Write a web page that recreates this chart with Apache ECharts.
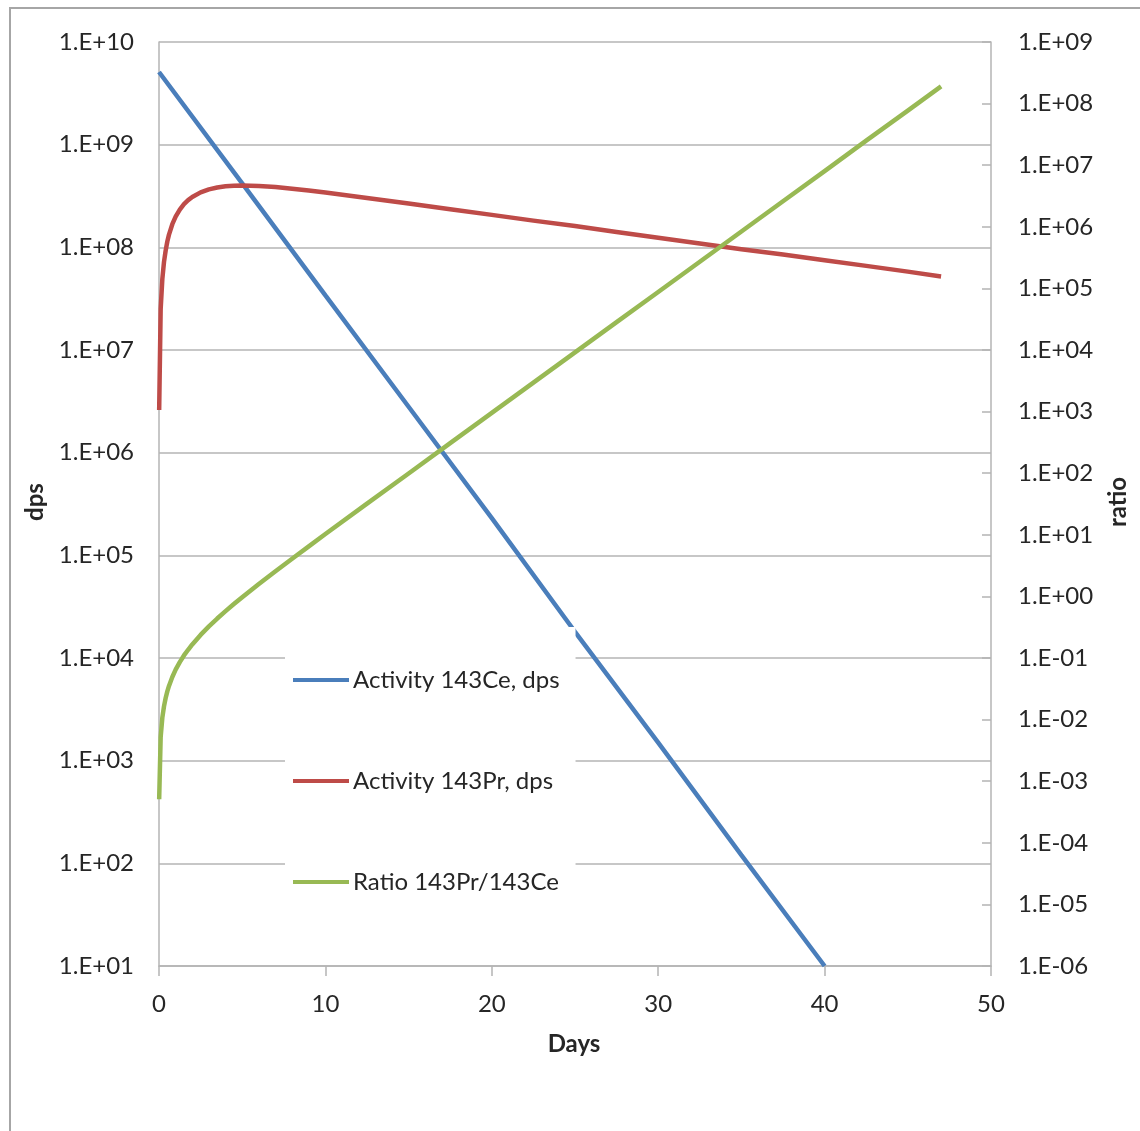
<!DOCTYPE html>
<html>
<head>
<meta charset="utf-8">
<script src="https://cdn.jsdelivr.net/npm/echarts@6/dist/echarts.min.js"></script>
<style>
  html, body { margin: 0; padding: 0; background: #ffffff; }
  #chart { width: 1140px; height: 1131px; }
</style>
</head>
<body>
<div id="chart"></div>
<script>
// Decay of 143Ce into 143Pr: activities (dps, left log axis) and Pr/Ce ratio (right log axis)
const ceDays = [0, 5, 10, 15, 20, 25, 30, 35, 40];
const ceActivity = [5.1e9, 4.2e8, 3.4e7, 2.8e6, 2.3e5, 1.8e4, 1.5e3, 1.2e2, 10];

const days = [0.01, 0.1, 0.2, 0.3, 0.4, 0.5, 0.6, 0.8, 1, 1.25, 1.5, 1.75, 2, 2.5, 3, 3.5,
              4, 4.5, 5, 6, 7, 8, 9, 10, 12.5, 15, 17.5, 20, 22.5, 25, 27.5, 30, 32.5,
              35, 37.5, 40, 42.5, 45, 47];
const prActivity = [2.6e6, 2.5e7, 4.9e7, 7.2e7, 9.3e7, 1.14e8, 1.33e8, 1.68e8, 1.99e8, 2.33e8,
                    2.63e8, 2.88e8, 3.09e8, 3.43e8, 3.67e8, 3.83e8, 3.93e8, 3.98e8, 4.0e8, 3.96e8,
                    3.86e8, 3.72e8, 3.57e8, 3.42e8, 3.03e8, 2.67e8, 2.35e8, 2.07e8, 1.82e8, 1.61e8,
                    1.41e8, 1.24e8, 1.09e8, 9.6e7, 8.5e7, 7.5e7, 6.6e7, 5.8e7, 5.2e7];
const ratio = [5.1e-4, 5.2e-3, 0.0107, 0.0164, 0.0224, 0.0287, 0.0352, 0.0492, 0.0646, 0.0858,
               0.11, 0.136, 0.166, 0.237, 0.326, 0.437, 0.576, 0.751, 0.97, 1.59,
               2.56, 4.09, 6.49, 10.3, 32, 99, 308, 953, 2950, 9130,
               2.83e4, 8.75e4, 2.71e5, 8.4e5, 2.6e6, 8.0e6, 2.5e7, 7.7e7, 1.9e8];

const seriesNames = ['Activity 143Ce, dps', 'Activity 143Pr, dps', 'Ratio 143Pr/143Ce'];
const seriesColors = ['#4A7EBB', '#BE4B48', '#98B954'];

const xTitle = 'Days';
const yLeftTitle = 'dps';
const yRightTitle = 'ratio';

const FONT = 'Lato, "Open Sans", sans-serif';
const TEXT = '#262626';
const GRID = '#B4B4B4';
const FS = 24;

function pairs(xs, ys) { return xs.map((x, i) => [x, ys[i]]); }

// Excel-style scientific label: 1.E+05, 1.E-03
function sci(v) {
  const e = Math.round(Math.log10(v));
  const s = e < 0 ? '-' : '+';
  return '1.E' + s + String(Math.abs(e)).padStart(2, '0');
}

const chart = echarts.init(document.getElementById('chart'), null, { renderer: 'canvas' });

chart.setOption({
  backgroundColor: '#ffffff',
  animation: false,
  textStyle: { fontFamily: FONT },
  grid: { left: 159, right: 149, top: 42, bottom: 165, containLabel: false },
  xAxis: {
    type: 'value', min: 0, max: 50, interval: 10,
    axisLine: { show: true, lineStyle: { color: GRID, width: 1.5 } },
    axisTick: { show: true, length: 10, lineStyle: { color: GRID, width: 1.5 } },
    axisLabel: { color: TEXT, fontSize: FS, fontFamily: FONT, margin: 26 },
    splitLine: { show: false }
  },
  yAxis: [
    {
      type: 'log', logBase: 10, min: 10, max: 1e10, interval: 1,
      position: 'left',
      axisLine: { show: true, lineStyle: { color: GRID, width: 1.5 } },
      axisTick: { show: false },
      axisLabel: { color: TEXT, fontSize: FS, fontFamily: FONT, margin: 25, formatter: sci },
      splitLine: { show: true, lineStyle: { color: GRID, width: 1.5 } },
      minorTick: { show: false }, minorSplitLine: { show: false }
    },
    {
      type: 'log', logBase: 10, min: 1e-6, max: 1e9, interval: 1,
      position: 'right',
      axisLine: { show: true, lineStyle: { color: GRID, width: 1.5 } },
      axisTick: { show: true, inside: true, length: 9, lineStyle: { color: GRID, width: 1.5 } },
      axisLabel: { color: TEXT, fontSize: FS, fontFamily: FONT, margin: 27, formatter: sci },
      splitLine: { show: false },
      minorTick: { show: false }, minorSplitLine: { show: false }
    }
  ],
  legend: {
    orient: 'vertical',
    left: 285, top: 627,
    padding: [41, 16, 15, 8],
    backgroundColor: '#ffffff',
    icon: 'rect',
    itemWidth: 56, itemHeight: 4,
    itemGap: 77,
    data: seriesNames,
    textStyle: { color: TEXT, fontSize: FS, fontFamily: FONT, lineHeight: 24, padding: [0, 0, 0, -1] }
  },
  series: [
    {
      name: seriesNames[0], type: 'line', yAxisIndex: 0,
      data: pairs(ceDays, ceActivity),
      symbol: 'none', showSymbol: false, clip: true,
      lineStyle: { color: seriesColors[0], width: 4.5 },
      itemStyle: { color: seriesColors[0] }
    },
    {
      name: seriesNames[1], type: 'line', yAxisIndex: 0,
      data: pairs(days, prActivity),
      symbol: 'none', showSymbol: false, clip: true,
      lineStyle: { color: seriesColors[1], width: 4.5, join: 'round' },
      itemStyle: { color: seriesColors[1] }
    },
    {
      name: seriesNames[2], type: 'line', yAxisIndex: 1,
      data: pairs(days, ratio),
      symbol: 'none', showSymbol: false, clip: true,
      lineStyle: { color: seriesColors[2], width: 4.5, join: 'round' },
      itemStyle: { color: seriesColors[2] }
    }
  ],
  graphic: [
    {
      type: 'rect', silent: true, z: -10,
      shape: { x: 10, y: 8, width: 1150, height: 1150 },
      style: { fill: 'none', stroke: '#A6A6A6', lineWidth: 2 }
    },
    {
      type: 'text', x: 35, y: 502, rotation: Math.PI / 2,
      style: { text: yLeftTitle, fill: TEXT, font: 'bold 24px ' + FONT, textAlign: 'center', textVerticalAlign: 'middle' }
    },
    {
      type: 'text', x: 1118, y: 502, rotation: Math.PI / 2,
      style: { text: yRightTitle, fill: TEXT, font: 'bold 24px ' + FONT, textAlign: 'center', textVerticalAlign: 'middle' }
    },
    {
      type: 'text', x: 574, y: 1044,
      style: { text: xTitle, fill: TEXT, font: 'bold 24px ' + FONT, textAlign: 'center', textVerticalAlign: 'middle' }
    }
  ]
});
</script>
</body>
</html>
